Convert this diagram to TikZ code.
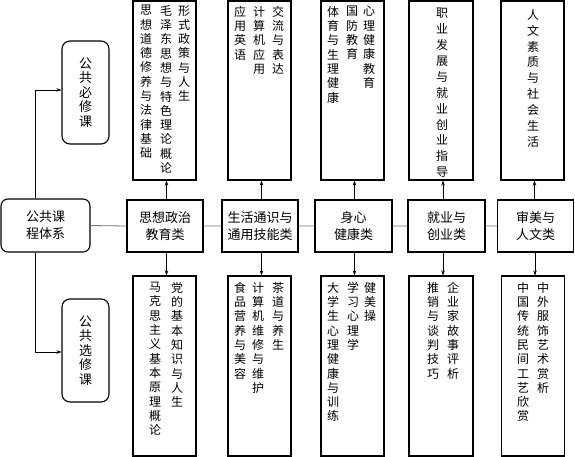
\documentclass[tikz,border=0pt]{standalone}
\usepackage{fontspec}
\setmainfont{Noto Sans CJK SC}
\usetikzlibrary{arrows.meta}
\ExplSyntaxOn
\NewDocumentCommand\vtext{m}{\tl_map_inline:nn{#1}{##1\par}}
\ExplSyntaxOff
\begin{document}
\begin{tikzpicture}[x=1pt,y=-1pt,
  box/.style={draw, line width=1.1pt, inner sep=0pt},
  rbox/.style={box, rounded corners=8pt},
  catbox/.style={box, minimum width=76pt, minimum height=52pt, align=center, font=\fontsize{13}{17}\selectfont},
  tallbox/.style={box, minimum width=63pt, minimum height=179pt},
  col/.style={anchor=north, inner sep=0pt, text width=14pt, align=center, font=\fontsize{12}{14.3}\selectfont},
  colw/.style={col, font=\fontsize{12}{15.9}\selectfont},
  lcol/.style={inner sep=0pt, text width=15pt, align=center, font=\fontsize{13}{14.5}\selectfont},
  arr/.style={-{Stealth[length=5pt,width=3.5pt]}, line width=0.6pt},
  link/.style={line width=0.8pt, black!55}]
\useasboundingbox (0,0) rectangle (575,457);
% root and categories
\node[rbox, rounded corners=7pt, minimum width=89pt, minimum height=53pt, align=center, font=\fontsize{13}{17}\selectfont] (root) at (45.5,225.5) {公共课\\程体系};
\node[catbox] (c1) at (165,226) {思想政治\\教育类};
\node[catbox] (c2) at (260,226) {生活通识与\\通用技能类};
\node[catbox, minimum width=77pt] (c3) at (353.5,226) {身心\\健康类};
\node[catbox, minimum width=77pt] (c4) at (446.5,226) {就业与\\创业类};
\node[catbox] (c5) at (535.5,226) {审美与\\人文类};
\draw[link] (root.east) -- (c1.west) (c1.east) -- (c2.west) (c2.east) -- (c3.west) (c3.east) -- (c4.west) (c4.east) -- (c5.west);
% left boxes
\node[rbox, minimum width=47pt, minimum height=103pt] (L1) at (85.5,92.5) {};
\node[lcol] (L1t) at (L1.center) {\vtext{公共必修课}};
\node[rbox, minimum width=47pt, minimum height=103pt] (L2) at (85.5,350.5) {};
\node[lcol] (L2t) at (L2.center) {\vtext{公共选修课}};
\draw[arr] ([xshift=-10.5pt]root.north) |- ([yshift=2.5pt]L1.west);
\draw[arr] ([xshift=-10.5pt]root.south) |- ([yshift=-1.5pt]L2.west);
% top boxes
\node[tallbox] (t1) at (164.5,90.5) {};
\node[tallbox] (t2) at (259.5,90.5) {};
\node[tallbox] (t3) at (352.5,90.5) {};
\node[tallbox, minimum width=64pt] (t4) at (441,90.5) {};
\node[tallbox] (t5) at (532.5,90.5) {};
% bottom boxes
\node[tallbox, minimum height=180pt] (b1) at (164.5,366) {};
\node[tallbox, minimum height=180pt] (b2) at (259.5,366) {};
\node[tallbox, minimum height=180pt] (b3) at (352.5,366) {};
\node[tallbox, minimum height=180pt, minimum width=64pt] (b4) at (441,366) {};
\node[tallbox, minimum height=180pt] (b5) at (533,366) {};
% arrows
\foreach \c/\t/\b in {c1/t1/b1,c2/t2/b2,c3/t3/b3,c4/t4/b4,c5/t5/b5}{
  \draw[arr] ([xshift=2pt]\t.south |- \c.north) -- ([xshift=2pt]\t.south);
  \draw[arr] ([xshift=2pt]\b.north |- \c.south) -- ([xshift=2pt]\b.north);
}
% top texts
\node[col] (t1a) at (184,5) {\vtext{形式政策与人生}};
\node[col] (t1b) at (166,5) {\vtext{毛泽东思想与特色理论概论}};
\node[col] (t1c) at (146,5) {\vtext{思想道德修养与法律基础}};
\node[col] (t2a) at (278,6) {\vtext{交流与表达}};
\node[col] (t2b) at (259,6) {\vtext{计算机应用}};
\node[col] (t2c) at (240,6) {\vtext{应用英语}};
\node[col] (t3a) at (369,6) {\vtext{心理健康教育}};
\node[col] (t3b) at (352,6) {\vtext{国防教育}};
\node[col] (t3c) at (333,6) {\vtext{体育与生理健康}};
\node[colw] (t4a) at (442,8) {\vtext{职业发展与就业创业指导}};
\node[colw] (t5a) at (533,9) {\vtext{人文素质与社会生活}};
% bottom texts
\node[col] (b1a) at (177,282) {\vtext{党的基本知识与人生}};
\node[col] (b1b) at (155,282) {\vtext{马克思主义基本原理概论}};
\node[col] (b2a) at (278,282) {\vtext{茶道与养生}};
\node[col] (b2b) at (258,282) {\vtext{计算机维修与维护}};
\node[col] (b2c) at (240,282) {\vtext{食品营养与美容}};
\node[col] (b3a) at (370,282) {\vtext{健美操}};
\node[col] (b3b) at (353,282) {\vtext{学习心理学}};
\node[col] (b3c) at (333,282) {\vtext{大学生心理健康与训练}};
\node[col] (b4a) at (453,282) {\vtext{企业家故事评析}};
\node[col] (b4b) at (433,282) {\vtext{推销与谈判技巧}};
\node[col] (b5a) at (543,282) {\vtext{中外服饰艺术赏析}};
\node[col] (b5b) at (523,282) {\vtext{中国传统民间工艺欣赏}};
\end{tikzpicture}
\end{document}
